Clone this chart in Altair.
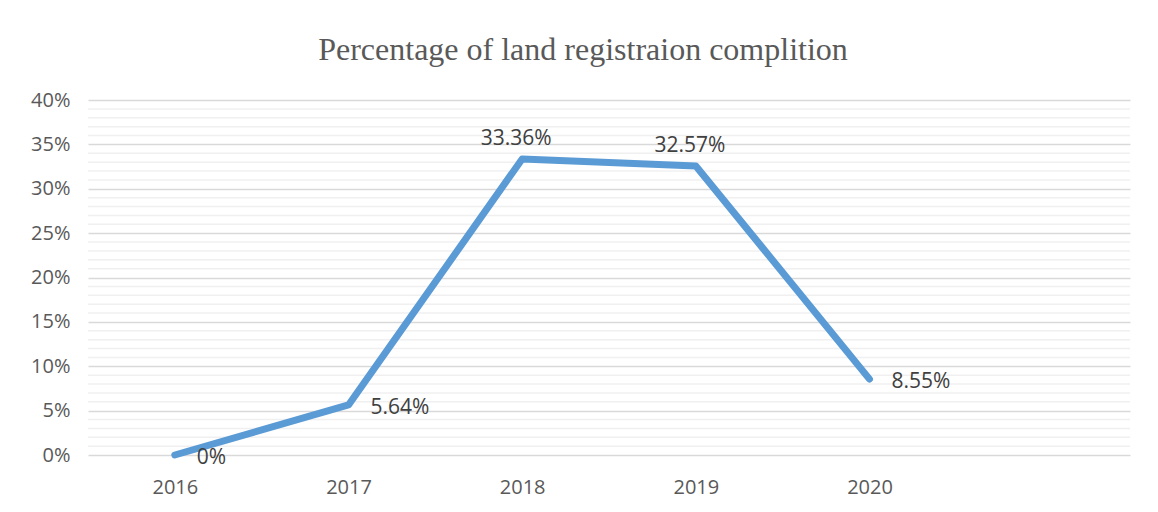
import altair as alt
import pandas as pd

years = ["2016", "2017", "2018", "2019", "2020"]
values = [0.0, 0.0564, 0.3336, 0.3257, 0.0855]
labels = ["0%", "5.64%", "33.36%", "32.57%", "8.55%"]
label_pos = ["right", "right", "above", "above", "right"]
x_domain = years + [" "]
major_ticks = [0.0, 0.05, 0.10, 0.15, 0.20, 0.25, 0.30, 0.35, 0.40]
minor_ticks = [i / 100 for i in range(41) if i % 5 != 0]

df = pd.DataFrame({"year": years, "value": values, "label": labels, "pos": label_pos})
minor_df = pd.DataFrame({"v": minor_ticks})

yscale = alt.Scale(domain=[0, 0.4], nice=False)
xscale = alt.Scale(type="point", domain=x_domain, padding=0.5)

yaxis = alt.Axis(title=None, values=major_ticks, format=".0%", ticks=False,
                 domain=False, labelPadding=18, labelFontSize=20,
                 labelColor="#595959", labelFont="Open Sans",
                 grid=True, gridColor="#D9D9D9", gridWidth=1.5)
xaxis = alt.Axis(title=None, labelAngle=0, ticks=False, domain=False,
                 labelPadding=22, labelFontSize=20, labelColor="#595959",
                 labelFont="Open Sans", grid=False)

minor = alt.Chart(minor_df).mark_rule(color="#F0F0F0", strokeWidth=1.5).encode(
    y=alt.Y("v:Q", scale=yscale, axis=yaxis)
)

line = alt.Chart(df).mark_line(
    color="#5B9BD5", strokeWidth=7, strokeCap="round", strokeJoin="round"
).encode(
    x=alt.X("year:O", scale=xscale, sort=x_domain, axis=xaxis),
    y=alt.Y("value:Q", scale=yscale, axis=yaxis),
)

right_labels = alt.Chart(df).transform_filter(alt.datum.pos == "right").mark_text(
    align="left", baseline="middle", dx=22, dy=3, fontSize=21, color="#404040",
    font="Open Sans"
).encode(x=alt.X("year:O", scale=xscale, sort=x_domain, axis=xaxis),
         y=alt.Y("value:Q", scale=yscale, axis=yaxis), text="label:N")

above_labels = alt.Chart(df).transform_filter(alt.datum.pos == "above").mark_text(
    align="center", baseline="middle", dx=-6, dy=-20, fontSize=21, color="#404040",
    font="Open Sans"
).encode(x=alt.X("year:O", scale=xscale, sort=x_domain, axis=xaxis),
         y=alt.Y("value:Q", scale=yscale, axis=yaxis), text="label:N")

chart = alt.layer(minor, line, right_labels, above_labels).properties(
    width=1042, height=355,
    background="white",
    title=alt.TitleParams("Percentage of land registraion complition",
                          font="Liberation Serif", fontSize=32, fontWeight="normal",
                          color="#595959", anchor="middle", offset=23, dx=-26),
    autosize=alt.AutoSizeParams(type="none"),
    padding={"left": 80, "top": 92, "right": 20, "bottom": 50},
).configure_view(strokeWidth=0, stroke="transparent")

chart.save("out.html", embed_options={"renderer": "svg", "actions": False})
